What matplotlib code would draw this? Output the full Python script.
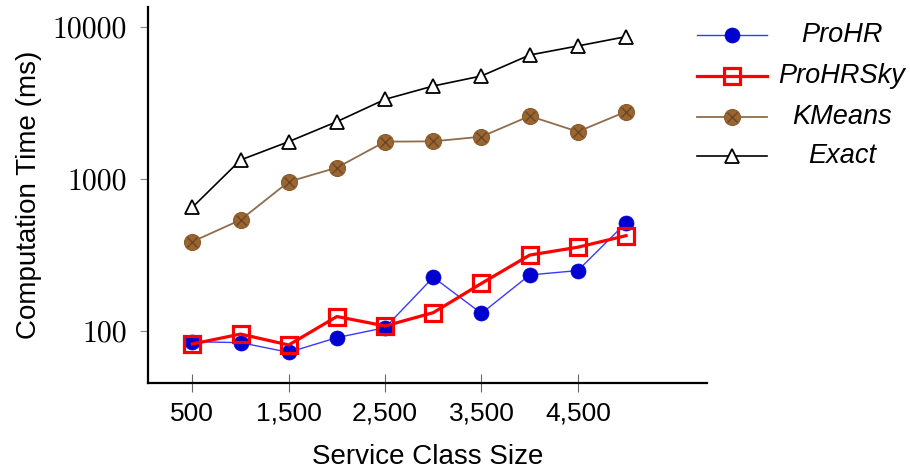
import matplotlib
matplotlib.use('Agg')
import matplotlib.pyplot as plt
from matplotlib.lines import Line2D
from matplotlib.ticker import FixedLocator, FixedFormatter, NullLocator

# data
sizes = [500, 1000, 1500, 2000, 2500, 3000, 3500, 4000, 4500, 5000]
prohr = [84.6, 83.4, 72, 90, 104.7, 225, 130, 233, 249, 515]
prohrsky = [81.7, 95, 80.5, 124, 107.4, 131.5, 205, 315, 355, 423]
kmeans = [386, 537, 959, 1188, 1762, 1770, 1900, 2600, 2050, 2780]
exact = [650, 1334, 1762, 2388, 3350, 4100, 4775, 6560, 7530, 8670]
labels = ['ProHR', 'ProHRSky', 'KMeans', 'Exact']
xticks = [500, 1500, 2500, 3500, 4500]
yticks = [100, 1000, 10000]

W, H = 910, 474
fig = plt.figure(figsize=(W / 100, H / 100), dpi=100)
ax = fig.add_axes([148 / W, 1 - 383 / H, (707 - 148) / W, (383 - 7) / H])

brown_fill = '#996633'
brown_dark = '#6e4620'
brown_line = '#8f6c4c'
sans = 'Liberation Sans'

styles = {
    'Exact': dict(color='black', lw=1.2, marker='^', ms=9.5, mfc='white', mec='black', mew=1.3),
    'KMeans': dict(color=brown_line, lw=1.3, marker='o', ms=11.5, mfc=brown_fill, mec='#8a5a2b', mew=0.8),
    'ProHR': dict(color='#3a3aff', lw=1.0, marker='o', ms=10.8, mfc='#0000d0', mec='#0000d0', mew=0.5),
    'ProHRSky': dict(color='#ff0000', lw=2.3, marker='s', ms=11.5, mfc='none', mec='#ff0000', mew=2.3),
}

ax.plot(sizes, exact, zorder=3, **styles['Exact'])
ax.plot(sizes, kmeans, zorder=3, **styles['KMeans'])
ax.plot(sizes, kmeans, ls='none', marker='x', ms=7, mec=brown_dark, mew=1.0, zorder=4)
ax.plot(sizes, prohr, zorder=5, **styles['ProHR'])
ax.plot(sizes, prohrsky, zorder=6, **styles['ProHRSky'])

ax.set_yscale('log')
ax.set_xlim(40, 5840)
ax.set_ylim(45.2, 13600)

for s in ['top', 'right']:
    ax.spines[s].set_visible(False)
for s in ['left', 'bottom']:
    ax.spines[s].set_linewidth(1.6)

ax.yaxis.set_major_locator(FixedLocator(yticks))
ax.yaxis.set_major_formatter(FixedFormatter([str(v) for v in yticks]))
ax.yaxis.set_minor_locator(NullLocator())
ax.xaxis.set_major_locator(FixedLocator(xticks))
ax.xaxis.set_major_formatter(FixedFormatter(['{:,}'.format(v) for v in xticks]))

ax.tick_params(axis='y', direction='out', length=6, width=0.8, color='#888888', pad=9,
               labelsize=21.5)
ax.tick_params(axis='x', direction='inout', length=13, width=0.8, color='#666666', pad=7,
               labelsize=19)
for t in ax.get_yticklabels():
    t.set_fontfamily('cmr10')
for t in ax.get_xticklabels():
    t.set_fontfamily(sans)

ax.set_xlabel('Service Class Size', fontfamily=sans, fontsize=20, labelpad=13)
ax.set_ylabel('Computation Time (ms)', fontfamily=sans, fontsize=20, labelpad=8)

# legend drawn by hand so that the labels can be centred like the original
rows = [35, 75.7, 116.7, 155.7]
for lab, yy in zip(labels, rows):
    st = dict(styles[lab])
    yf = 1 - yy / H
    fig.add_artist(Line2D([697 / W, 767 / W], [yf, yf], transform=fig.transFigure,
                          color=st['color'], lw=st['lw']))
    fig.add_artist(Line2D([732 / W], [yf], transform=fig.transFigure, ls='none',
                          marker=st['marker'], ms=st['ms'], mfc=st['mfc'], mec=st['mec'],
                          mew=st['mew']))
    if lab == 'KMeans':
        fig.add_artist(Line2D([732 / W], [yf], transform=fig.transFigure, ls='none',
                              marker='x', ms=7, mec=brown_dark, mew=1.0))
    fig.text(842 / W, yf, lab, ha='center', va='center', fontsize=19.5,
             fontfamily=sans, fontstyle='italic')

fig.savefig('out.png', dpi=100)
